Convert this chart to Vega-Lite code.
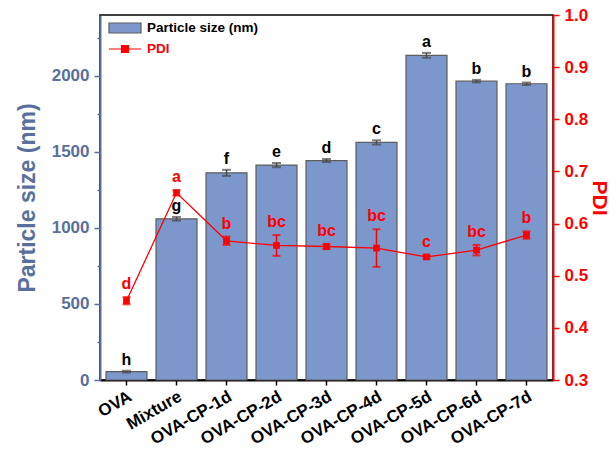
{
  "$schema": "https://vega.github.io/schema/vega-lite/v6.json",
  "width": 453,
  "height": 365,
  "autosize": "none",
  "padding": {"left": 100, "top": 15, "right": 63, "bottom": 83},
  "config": {
    "font": "Liberation Sans",
    "view": {"stroke": "black", "strokeWidth": 1.5},
    "axis": {"grid": false, "labelFontWeight": "bold", "titleFontWeight": "bold"}
  },
  "data": {
    "values": [
      {"group": "OVA", "size": 55, "size_lo": 49, "size_hi": 61, "pdi": 0.452, "pdi_lo": 0.445, "pdi_hi": 0.459, "sl": "h", "pl": "d"},
      {"group": "Mixture", "size": 1060, "size_lo": 1048, "size_hi": 1072, "pdi": 0.659, "pdi_lo": 0.654, "pdi_hi": 0.664, "sl": "g", "pl": "a"},
      {"group": "OVA-CP-1d", "size": 1362, "size_lo": 1342, "size_hi": 1382, "pdi": 0.567, "pdi_lo": 0.559, "pdi_hi": 0.575, "sl": "f", "pl": "b"},
      {"group": "OVA-CP-2d", "size": 1413, "size_lo": 1399, "size_hi": 1427, "pdi": 0.558, "pdi_lo": 0.538, "pdi_hi": 0.578, "sl": "e", "pl": "bc"},
      {"group": "OVA-CP-3d", "size": 1443, "size_lo": 1433, "size_hi": 1453, "pdi": 0.556, "pdi_lo": 0.551, "pdi_hi": 0.561, "sl": "d", "pl": "bc"},
      {"group": "OVA-CP-4d", "size": 1562, "size_lo": 1548, "size_hi": 1576, "pdi": 0.553, "pdi_lo": 0.517, "pdi_hi": 0.589, "sl": "c", "pl": "bc"},
      {"group": "OVA-CP-5d", "size": 2135, "size_lo": 2119, "size_hi": 2151, "pdi": 0.536, "pdi_lo": 0.533, "pdi_hi": 0.539, "sl": "a", "pl": "c"},
      {"group": "OVA-CP-6d", "size": 1965, "size_lo": 1957, "size_hi": 1973, "pdi": 0.549, "pdi_lo": 0.539, "pdi_hi": 0.559, "sl": "b", "pl": "bc"},
      {"group": "OVA-CP-7d", "size": 1948, "size_lo": 1940, "size_hi": 1956, "pdi": 0.578, "pdi_lo": 0.571, "pdi_hi": 0.585, "sl": "b", "pl": "b"}
    ]
  },
  "encoding": {
    "x": {
      "field": "group", "type": "nominal", "sort": null,
      "scale": {"paddingInner": 0.18, "paddingOuter": 0.12},
      "axis": {
        "title": null, "labelAngle": -30, "labelFontSize": 17, "labelColor": "black",
        "domainColor": "black", "domainWidth": 2, "tickColor": "black", "tickWidth": 1.5,
        "tickSize": 5, "labelPadding": 3
      }
    }
  },
  "layer": [
    {
      "layer": [
        {
          "mark": {"type": "bar", "stroke": "#5E5E5E", "strokeWidth": 1.2},
          "encoding": {
            "y": {
              "field": "size", "type": "quantitative",
              "scale": {"domain": [0, 2400], "nice": false},
              "axis": {
                "orient": "left",
                "title": "Particle size (nm)",
                "values": [0, 250, 500, 750, 1000, 1250, 1500, 1750, 2000, 2250],
                "labelExpr": "datum.value % 500 === 0 ? format(datum.value, 'd') : ''",
                "tickSize": {"condition": {"test": "datum.value % 500 !== 0", "value": 3}, "value": 6},
                "tickColor": "#5A6F9C", "tickWidth": 1.5,
                "domainColor": "#5A6F9C", "domainWidth": 2,
                "labelColor": "#5A6F9C", "labelFontSize": 17, "labelPadding": 5,
                "titleColor": "#5A6F9C", "titleFontSize": 23, "titlePadding": 12
              }
            },
            "fill": {
              "datum": "Particle size (nm)",
              "scale": {"range": ["#7B97CC"]},
              "legend": {
                "title": null, "orient": "none", "legendX": 8, "legendY": -4, "padding": 0,
                "symbolType": "M-1,-0.3125H1V0.3125H-1Z", "symbolSize": 1024,
                "symbolStrokeColor": "#5E5E5E", "symbolStrokeWidth": 1.2,
                "labelFontSize": 13.5, "labelFontWeight": "bold", "labelColor": "black", "labelOffset": 5
              }
            }
          }
        },
        {
          "mark": {"type": "rule", "color": "#4A4A4A", "strokeWidth": 1.5},
          "encoding": {
            "y": {"field": "size_lo", "type": "quantitative"},
            "y2": {"field": "size_hi"}
          }
        },
        {
          "mark": {"type": "tick", "color": "#4A4A4A", "size": 9, "thickness": 2},
          "encoding": {"y": {"field": "size_lo", "type": "quantitative"}}
        },
        {
          "mark": {"type": "tick", "color": "#4A4A4A", "size": 9, "thickness": 2},
          "encoding": {"y": {"field": "size_hi", "type": "quantitative"}}
        },
        {
          "mark": {"type": "text", "color": "black", "fontSize": 16, "fontWeight": "bold", "baseline": "bottom", "dy": -3},
          "encoding": {
            "y": {"field": "size_hi", "type": "quantitative"},
            "text": {"field": "sl"}
          }
        }
      ]
    },
    {
      "layer": [
        {
          "mark": {"type": "line", "strokeWidth": 1.3},
          "encoding": {
            "y": {
              "field": "pdi", "type": "quantitative",
              "scale": {"domain": [0.3, 1.0], "nice": false, "zero": false},
              "axis": {
                "orient": "right",
                "title": "PDI",
                "values": [0.3, 0.35, 0.4, 0.45, 0.5, 0.55, 0.6, 0.65, 0.7, 0.75, 0.8, 0.85, 0.9, 0.95, 1.0],
                "labelExpr": "abs(datum.value*10 - round(datum.value*10)) < 0.01 ? format(datum.value, '.1f') : ''",
                "tickSize": {"condition": {"test": "abs(datum.value*10 - round(datum.value*10)) > 0.01", "value": 3}, "value": 6},
                "tickColor": "#FF0000", "tickWidth": 1.5,
                "domainColor": "#FF0000", "domainWidth": 2,
                "labelColor": "#FF0000", "labelFontSize": 17, "labelPadding": 5,
                "titleColor": "#FF0000", "titleFontSize": 21, "titlePadding": 1
              }
            },
            "stroke": {
              "datum": "PDI",
              "scale": {"range": ["#FF0000"]},
              "legend": {
                "title": null, "orient": "none", "legendX": 8, "legendY": 17, "padding": 0,
                "symbolType": "M-1,0H1M-0.22,-0.22H0.22V0.22H-0.22Z", "symbolSize": 1024,
                "symbolFillColor": "#FF0000", "symbolStrokeWidth": 1.2,
                "labelFontSize": 13.5, "labelFontWeight": "bold", "labelColor": "#FF0000", "labelOffset": 5
              }
            }
          }
        },
        {
          "mark": {"type": "rule", "color": "#FF0000", "strokeWidth": 1.5},
          "encoding": {
            "y": {"field": "pdi_lo", "type": "quantitative"},
            "y2": {"field": "pdi_hi"}
          }
        },
        {
          "mark": {"type": "tick", "color": "#FF0000", "size": 8, "thickness": 2},
          "encoding": {"y": {"field": "pdi_lo", "type": "quantitative"}}
        },
        {
          "mark": {"type": "tick", "color": "#FF0000", "size": 8, "thickness": 2},
          "encoding": {"y": {"field": "pdi_hi", "type": "quantitative"}}
        },
        {
          "mark": {"type": "point", "shape": "square", "filled": true, "color": "#FF0000", "size": 45, "opacity": 1},
          "encoding": {"y": {"field": "pdi", "type": "quantitative"}}
        },
        {
          "mark": {"type": "text", "color": "#FF0000", "fontSize": 16, "fontWeight": "bold", "baseline": "bottom", "dy": -5},
          "encoding": {
            "y": {"field": "pdi_hi", "type": "quantitative"},
            "text": {"field": "pl"}
          }
        }
      ]
    }
  ],
  "resolve": {"scale": {"y": "independent"}}
}
